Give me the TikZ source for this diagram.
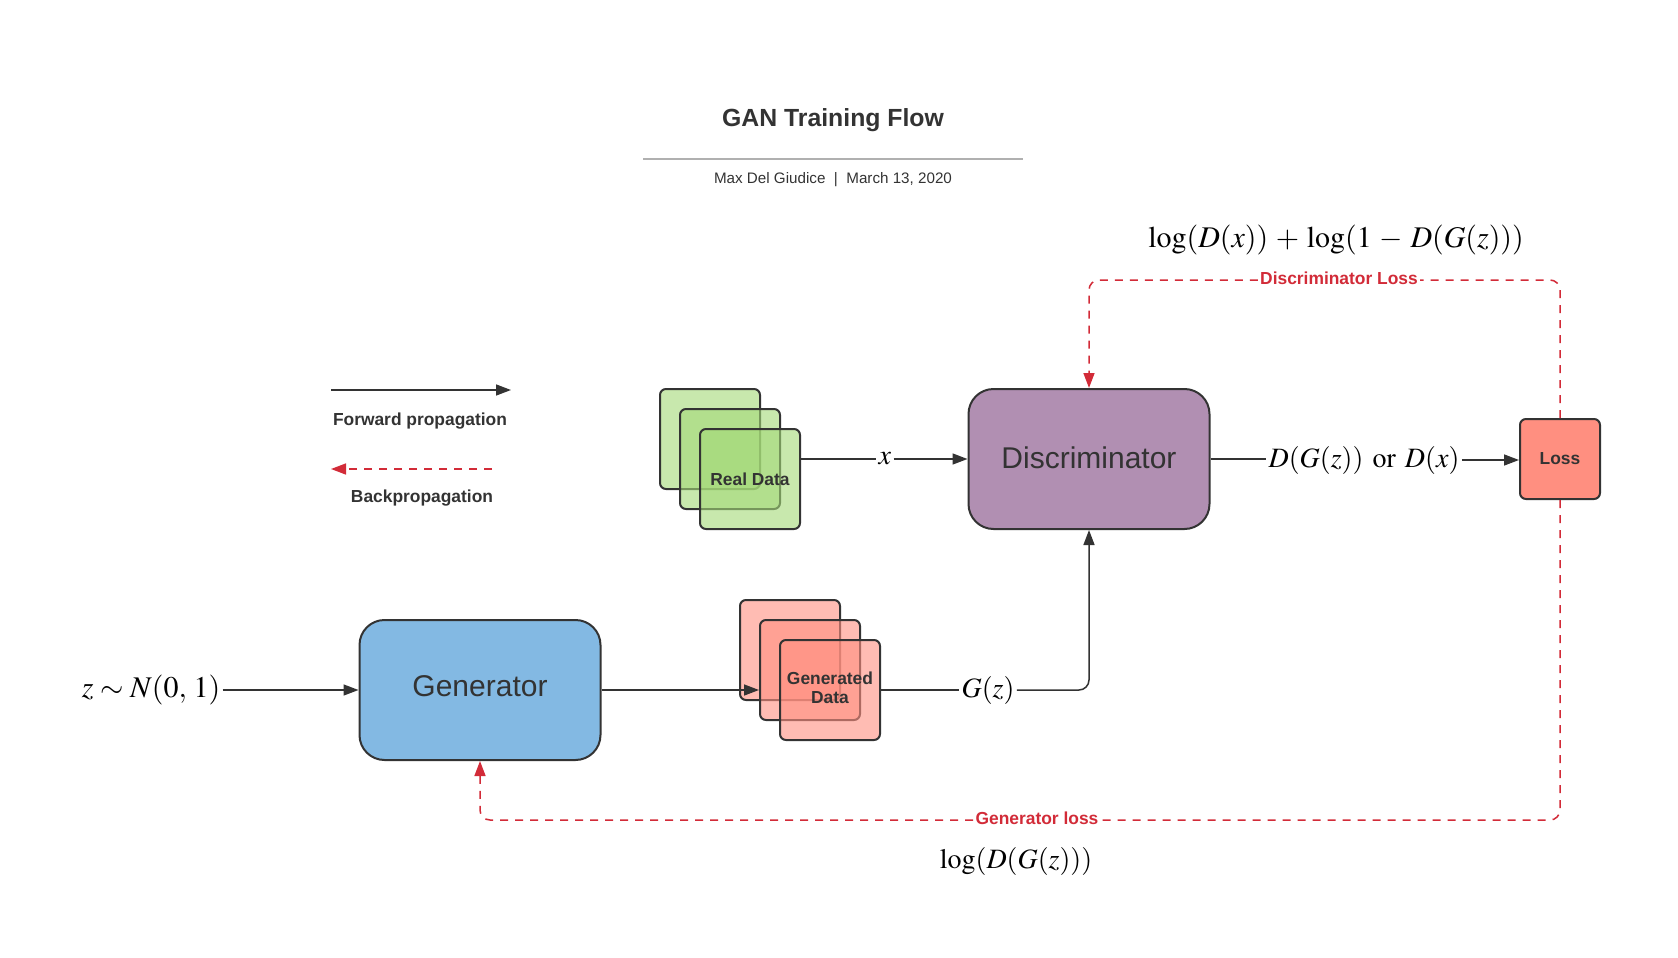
\documentclass[tikz,border=0pt]{standalone}
\usepackage{mathptmx}
\usepackage[no-math]{fontspec}
\setsansfont{Liberation Sans}
\usetikzlibrary{arrows.meta}
\definecolor{dark}{HTML}{333333}
\definecolor{greenc}{HTML}{A3D977}
\definecolor{coral}{HTML}{FF8F80}
\definecolor{discc}{HTML}{B18FB2}
\definecolor{genc}{HTML}{83B9E3}
\definecolor{redc}{HTML}{D22B38}
\definecolor{rulec}{HTML}{B0B0B0}
\begin{document}
\begin{tikzpicture}[x=0.5pt,y=-0.5pt,
  box/.style={draw=dark, line width=1pt, inner sep=0pt, font=\sffamily, text=dark},
  bigbox/.style={box, rounded corners=12.5pt, minimum width=120.5pt, minimum height=70pt, font=\sffamily\fontsize{15}{18}\selectfont},
  card/.style={box, rounded corners=3pt, minimum width=50pt, minimum height=50pt, fill opacity=0.6, text opacity=1, align=center, font=\sffamily\bfseries\fontsize{8.7}{10}\selectfont},
  greencard/.style={card, fill=greenc},
  redcard/.style={card, fill=coral},
  lbl/.style={font=\sffamily\bfseries\fontsize{8.7}{10.5}\selectfont, text=dark, inner sep=0pt},
  redlbl/.style={font=\sffamily\bfseries\fontsize{8.7}{10.5}\selectfont, text=redc, fill=white, inner sep=1pt},
  mth/.style={font=\fontsize{14}{16}\selectfont, text=black, inner sep=1pt, fill=white},
  fwd/.style={draw=dark, line width=0.75pt, -{Triangle[length=7.5pt,width=5.5pt]}},
  fline/.style={draw=dark, line width=0.75pt},
  bwd/.style={draw=redc, line width=0.75pt, dash pattern=on 4pt off 3.5pt, -{Triangle[length=7.5pt,width=5.5pt]}},
  bline/.style={draw=redc, line width=0.75pt, dash pattern=on 4pt off 3.5pt},
]
\useasboundingbox (0,0) rectangle (1678,958);

% title
\node[font=\sffamily\bfseries\fontsize{12.4}{15}\selectfont, text=dark] (title) at (833,120) {GAN Training Flow};
\coordinate (r1) at (643,159);
\coordinate (r2) at (1023,159);
\draw[rulec, line width=1pt] (r1) -- (r2);
\node[font=\sffamily\fontsize{7.6}{9}\selectfont, text=dark] (sub) at (833,180) {Max Del Giudice\ \ |\ \ March 13, 2020};

% legend
\coordinate (fa) at (331,390);
\coordinate (fb) at (511,390);
\draw[fwd] (fa) -- (fb);
\node[lbl] (flbl) at (420,421) {Forward propagation};
\coordinate (ba) at (492,469);
\coordinate (bb) at (331,469);
\draw[bwd] (ba) -- (bb);
\node[lbl] (blbl) at (422,498) {Backpropagation};

% main boxes
\node[bigbox, fill=discc] (disc) at (1089,459) {\raisebox{1.7pt}{Discriminator}};
\node[bigbox, fill=genc] (gen) at (480,690) {\raisebox{3.6pt}{Generator}};
\node[box, fill=coral, rounded corners=3pt, minimum width=40pt, minimum height=40pt, font=\sffamily\bfseries\fontsize{8.7}{10}\selectfont] (loss) at (1560,459) {Loss};

% real data cards
\node[greencard] (ra) at (710,439) {};
\node[greencard] (rb) at (730,459) {};
\node[greencard] (rc) at (750,479) {Real Data};

% generated data cards
\node[redcard] (ga) at (790,650) {};
\node[redcard] (gb) at (810,670) {};
\node[redcard] (gc) at (830,690) {\raisebox{1.6pt}{\begin{tabular}{@{}c@{}}Generated\\[-0.8pt]Data\end{tabular}}};

% math labels
\node[mth, font=\fontsize{15}{17}\selectfont] (zin) at (151,690) {$z \sim N(0,\,1)$};
\node[mth] (xl) at (885,459) {$x$};
\node[mth] (gz) at (988,690) {$G(z)$};
\node[mth] (dout) at (1364,460) {$D(G(z))\ \mathrm{or}\ D(x)$};
\node[mth, font=\fontsize{15}{17}\selectfont] (dlossf) at (1336,240) {$\medmuskip=4.6mu \log(D(x)) + \log(1 - D(G(z)))$};
\node[mth] (glossf) at (1016,861) {$\log(D(G(z)))$};

% forward connectors
\draw[fwd] (zin.east) -- (gen.west);
\draw[fwd] (gen.east) -- (gen.east -| gb.west);
\draw[fline] (gc.east) -- (gz.west);
\draw[fwd, rounded corners=5pt] (gz.east) -| (disc.south);
\draw[fline] (disc.west -| rc.east) -- (xl.west);
\draw[fwd] (xl.east) -- (disc.west);
\draw[fline] (disc.east) -- (disc.east -| dout.west);
\draw[fwd] (dout.east) -- (dout.east -| loss.west);

% backprop connectors
\node[redlbl] (dlabel) at (1339,280) {\raisebox{1.5pt}{Discriminator Loss}};
\draw[bline, rounded corners=5pt] (loss.north) |- (dlabel.east);
\draw[bwd, rounded corners=5pt] (dlabel.west) -| (disc.north);
\node[redlbl] (glabel) at (1037,820) {\raisebox{1.5pt}{Generator loss}};
\draw[bline, rounded corners=5pt] (loss.south) |- (glabel.east);
\draw[bwd, rounded corners=5pt] (glabel.west) -| (gen.south);
\end{tikzpicture}
\end{document}
